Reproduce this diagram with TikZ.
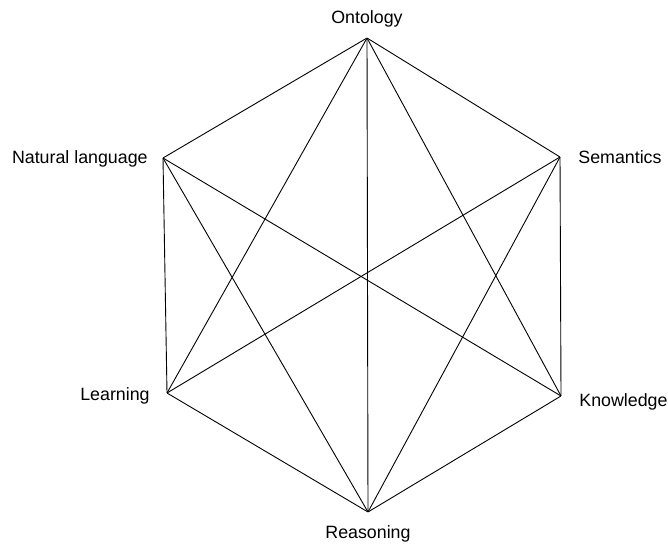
\documentclass[tikz,border=0pt]{standalone}
\usepackage{fontspec}
\setmainfont{Liberation Sans}

\tikzset{
  vtx/.style={inner sep=0pt, minimum size=0pt},
  lbl/.style={font=\fontsize{17.8}{20}\selectfont, inner sep=0pt},
  edge/.style={draw=black, line width=0.9pt},
}

\begin{document}
\begin{tikzpicture}[x=1pt, y=-1pt]
  \useasboundingbox (0,0) rectangle (668,543);
  % Corners of the hexagon
  \node[vtx, label={[lbl, label distance=10pt]above:Ontology}] (onto) at (367, 38) {};
  \node[vtx, label={[lbl, label distance=18pt]right:Semantics}] (sem) at (560, 157) {};
  \node[vtx, label={[lbl, label distance=18pt, yshift=-6pt]right:Knowledge}] (know) at (561, 396) {};
  \node[vtx, label={[lbl, label distance=13pt]below:Reasoning}] (reas) at (368, 512) {};
  \node[vtx, label={[lbl, label distance=17pt, yshift=-3pt]left:Learning}] (learn) at (167, 393) {};
  \node[vtx, label={[lbl, label distance=15pt, yshift=-1pt]left:Natural language}] (nat) at (163, 158) {};

  % Outline
  \draw[edge] (onto) -- (sem) -- (know) -- (reas) -- (learn) -- (nat) -- (onto);

  % Chords
  \draw[edge] (onto) -- (reas);
  \draw[edge] (onto) -- (learn);
  \draw[edge] (onto) -- (know);
  \draw[edge] (nat) -- (know);
  \draw[edge] (nat) -- (reas);
  \draw[edge] (sem) -- (learn);
  \draw[edge] (sem) -- (reas);
\end{tikzpicture}
\end{document}
